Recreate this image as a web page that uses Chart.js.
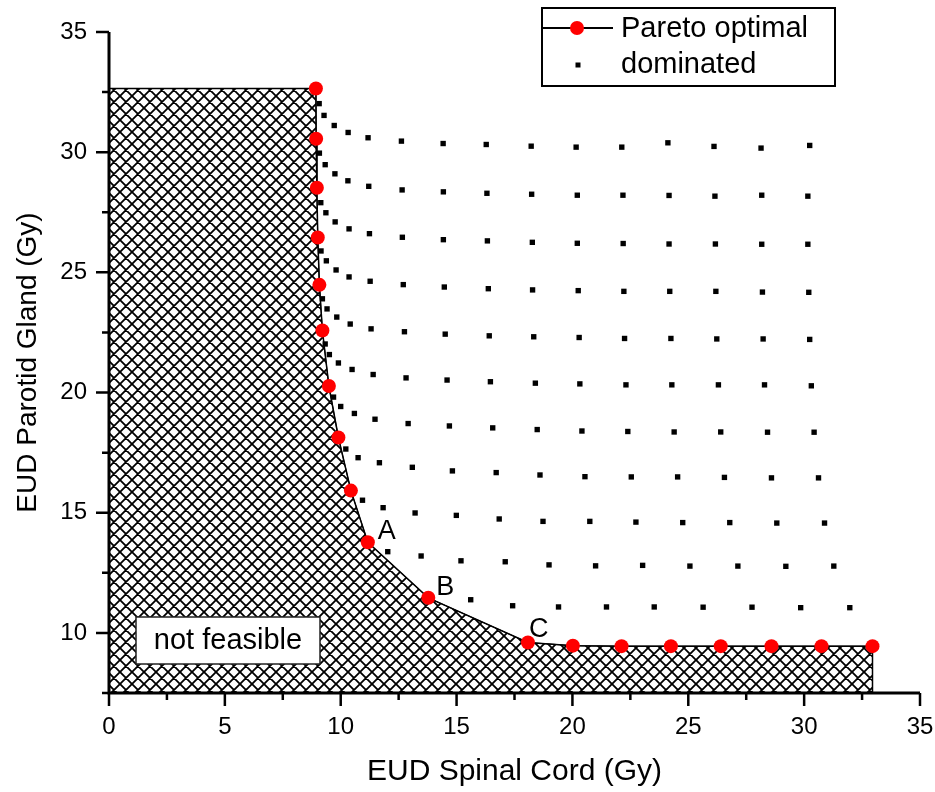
<!DOCTYPE html>
<html lang="en">
<head>
    <meta charset="UTF-8">
    <title>Pareto front</title>
    <script src="https://cdn.jsdelivr.net/npm/chart.js"></script>
    <style>
        body {
            margin: 0;
            padding: 0;
            background-color: #fff;
        }
        canvas {
            display: block;
        }
    </style>
</head>
<body>
    <canvas id="chart" width="935" height="792"></canvas>

    <script>
        // axis ranges / ticks
        const xMin = 0, xMax = 35;
        const yMin = 7.5, yMax = 35;
        const tickStep = 2.5;
        const labelStep = 5;

        // Pareto optimal points (EUD spinal cord, EUD parotid gland)
        const paretoX = [8.93, 8.94, 8.97, 9.01, 9.08, 9.21, 9.49, 9.90, 10.44, 11.17, 13.78, 18.08, 20.02, 22.12, 24.25, 26.40, 28.59, 30.75, 32.95];
        const paretoY = [32.65, 30.56, 28.52, 26.45, 24.48, 22.58, 20.27, 18.13, 15.92, 13.77, 11.46, 9.60, 9.47, 9.45, 9.45, 9.45, 9.45, 9.45, 9.45];

        // dominated points, one row per trade-off level
        const dominatedX = [
            [9.07, 9.28, 9.72, 10.32, 11.18, 12.62, 14.42, 16.28, 18.22, 20.16, 22.13, 24.12, 26.11, 28.14, 30.24],
            [9.08, 9.33, 9.75, 10.31, 11.21, 12.65, 14.43, 16.31, 18.24, 20.21, 22.18, 24.17, 26.15, 28.17, 30.16],
            [9.14, 9.36, 9.76, 10.36, 11.24, 12.66, 14.43, 16.33, 18.27, 20.21, 22.19, 24.17, 26.17, 28.17, 30.16],
            [9.15, 9.38, 9.80, 10.36, 11.27, 12.70, 14.47, 16.37, 18.28, 20.25, 22.22, 24.20, 26.19, 28.20, 30.20],
            [9.21, 9.41, 9.83, 10.41, 11.31, 12.75, 14.51, 16.41, 18.33, 20.29, 22.25, 24.25, 26.23, 28.23, 30.24],
            [9.33, 9.51, 9.90, 10.49, 11.40, 12.82, 14.59, 16.46, 18.40, 20.32, 22.31, 24.29, 26.30, 28.29, 30.31],
            [9.69, 10.00, 10.59, 11.48, 12.91, 14.69, 16.56, 18.48, 20.41, 22.39, 24.39, 26.40, 28.42, 30.43],
            [10.22, 10.75, 11.67, 13.09, 14.82, 16.71, 18.60, 20.54, 22.54, 24.54, 26.56, 28.59, 30.62],
            [10.94, 11.83, 13.21, 14.99, 16.84, 18.73, 20.75, 22.74, 24.76, 26.79, 28.82, 30.88],
            [12.03, 13.47, 15.19, 17.10, 18.99, 21.00, 23.03, 25.07, 27.14, 29.21, 31.28],
            [15.61, 17.42, 19.40, 21.47, 23.53, 25.64, 27.75, 29.85, 31.97]
        ];
        const dominatedY = [
            [32.02, 31.53, 31.11, 30.82, 30.60, 30.46, 30.36, 30.32, 30.25, 30.21, 30.21, 30.39, 30.24, 30.17, 30.28],
            [29.96, 29.48, 29.10, 28.81, 28.58, 28.43, 28.35, 28.29, 28.25, 28.21, 28.21, 28.20, 28.17, 28.21, 28.17],
            [27.90, 27.48, 27.10, 26.81, 26.61, 26.46, 26.36, 26.31, 26.25, 26.21, 26.20, 26.18, 26.18, 26.17, 26.17],
            [25.89, 25.48, 25.10, 24.81, 24.63, 24.49, 24.39, 24.32, 24.27, 24.24, 24.21, 24.21, 24.21, 24.18, 24.17],
            [23.90, 23.48, 23.14, 22.85, 22.65, 22.53, 22.43, 22.36, 22.32, 22.29, 22.25, 22.25, 22.23, 22.23, 22.21],
            [22.02, 21.58, 21.23, 20.96, 20.75, 20.61, 20.52, 20.45, 20.39, 20.36, 20.32, 20.32, 20.32, 20.32, 20.28],
            [19.81, 19.42, 19.13, 18.89, 18.71, 18.61, 18.53, 18.46, 18.40, 18.38, 18.36, 18.36, 18.35, 18.35],
            [17.65, 17.29, 17.08, 16.89, 16.74, 16.67, 16.57, 16.50, 16.49, 16.49, 16.47, 16.45, 16.45],
            [15.52, 15.21, 14.99, 14.89, 14.74, 14.64, 14.64, 14.61, 14.59, 14.59, 14.57, 14.57],
            [13.38, 13.20, 13.00, 12.96, 12.83, 12.79, 12.81, 12.78, 12.78, 12.77, 12.78],
            [11.38, 11.13, 11.08, 11.08, 11.08, 11.07, 11.07, 11.05, 11.05]
        ];

        // labelled Pareto points
        const markLabels = ['A', 'B', 'C'];
        const markIndex = [9, 10, 11];

        const legendLabels = ['Pareto optimal', 'dominated'];
        const regionLabel = 'not feasible';
        const xTitle = 'EUD Spinal Cord (Gy)';
        const yTitle = 'EUD Parotid Gland (Gy)';

        const FONT = "'Liberation Sans', Arial, sans-serif";
        const RED = '#ff0000';

        // build point lists
        const paretoPoints = paretoX.map((x, i) => ({ x: x, y: paretoY[i] }));
        const dominatedPoints = [];
        dominatedX.forEach((row, r) => {
            row.forEach((x, i) => dominatedPoints.push({ x: x, y: dominatedY[r][i] }));
        });
        // not-feasible region: flat top from the axis, down the front, then to the bottom
        const regionPoints = [{ x: xMin, y: paretoY[0] }]
            .concat(paretoPoints)
            .concat([{ x: paretoX[paretoX.length - 1], y: yMin }]);

        // cross hatch pattern
        function makeHatch() {
            const s = 12;
            const c = document.createElement('canvas');
            c.width = s;
            c.height = s;
            const g = c.getContext('2d');
            g.strokeStyle = '#000';
            g.lineWidth = 1.8;
            g.beginPath();
            [-s, 0, s].forEach(k => {
                g.moveTo(k, 0); g.lineTo(k + s, s);
                g.moveTo(k, s); g.lineTo(k + s, 0);
            });
            g.stroke();
            return g.createPattern(c, 'repeat');
        }

        // axis lines with major / minor ticks
        const axesPlugin = {
            id: 'axesPlugin',
            afterDatasetsDraw(chart) {
                const { ctx, chartArea: a, scales: { x, y } } = chart;
                ctx.save();
                ctx.strokeStyle = '#000';
                ctx.lineWidth = 2.5;
                ctx.beginPath();
                y.ticks.forEach(t => {
                    const p = y.getPixelForValue(t.value);
                    const len = t.value % labelStep === 0 ? 13 : 7;
                    ctx.moveTo(a.left, p);
                    ctx.lineTo(a.left - len, p);
                });
                x.ticks.forEach(t => {
                    const p = x.getPixelForValue(t.value);
                    const len = t.value % labelStep === 0 ? 13 : 7;
                    ctx.moveTo(p, a.bottom);
                    ctx.lineTo(p, a.bottom + len);
                });
                ctx.stroke();
                ctx.lineWidth = 3;
                ctx.beginPath();
                ctx.moveTo(a.left, y.getPixelForValue(yMax));
                ctx.lineTo(a.left, a.bottom);
                ctx.lineTo(x.getPixelForValue(xMax), a.bottom);
                ctx.stroke();
                ctx.restore();
            }
        };

        // A/B/C marks, "not feasible" box, legend box
        const notesPlugin = {
            id: 'notesPlugin',
            afterDraw(chart) {
                const { ctx, scales: { x, y } } = chart;
                ctx.save();

                ctx.fillStyle = '#000';
                ctx.font = '27px ' + FONT;
                ctx.textBaseline = 'alphabetic';
                ctx.textAlign = 'left';
                const offs = [[10, -3], [8, -3], [1, -6]];
                markLabels.forEach((txt, i) => {
                    const k = markIndex[i];
                    const px = x.getPixelForValue(paretoX[k]);
                    const py = y.getPixelForValue(paretoY[k]);
                    ctx.fillText(txt, px + offs[i][0], py + offs[i][1]);
                });

                // not feasible box
                ctx.fillStyle = '#fff';
                ctx.fillRect(136, 617, 184, 47);
                ctx.strokeStyle = '#222';
                ctx.lineWidth = 1.5;
                ctx.strokeRect(136, 617, 184, 47);
                ctx.fillStyle = '#000';
                ctx.font = '29px ' + FONT;
                ctx.textAlign = 'center';
                ctx.textBaseline = 'middle';
                ctx.fillText(regionLabel, 228, 641);

                // legend
                ctx.fillStyle = '#fff';
                ctx.fillRect(542, 8, 293, 78);
                ctx.strokeStyle = '#000';
                ctx.lineWidth = 2;
                ctx.strokeRect(542, 8, 293, 78);
                ctx.lineWidth = 1.8;
                ctx.beginPath();
                ctx.moveTo(543, 28);
                ctx.lineTo(613, 28);
                ctx.stroke();
                ctx.fillStyle = RED;
                ctx.beginPath();
                ctx.arc(577, 28, 7, 0, Math.PI * 2);
                ctx.fill();
                ctx.fillStyle = '#000';
                ctx.fillRect(575.5, 62.5, 5, 5);
                ctx.textAlign = 'left';
                ctx.font = '29px ' + FONT;
                ctx.fillText(legendLabels[0], 621, 29);
                ctx.fillText(legendLabels[1], 621, 65);

                ctx.restore();
            }
        };

        const tickLabel = v => (v % labelStep === 0 ? v : '');

        new Chart(document.getElementById('chart'), {
            type: 'scatter',
            data: {
                datasets: [
                    {
                        label: legendLabels[0],
                        data: paretoPoints,
                        showLine: true,
                        borderColor: '#000',
                        borderWidth: 1,
                        pointBackgroundColor: RED,
                        pointBorderWidth: 0,
                        pointRadius: 7,
                        order: 0
                    },
                    {
                        label: legendLabels[1],
                        data: dominatedPoints,
                        pointStyle: 'rect',
                        pointBackgroundColor: '#000',
                        pointBorderWidth: 0,
                        pointRadius: 3.8,
                        order: 1
                    },
                    {
                        label: regionLabel,
                        data: regionPoints,
                        showLine: true,
                        borderColor: '#000',
                        borderWidth: 1.5,
                        pointRadius: 0,
                        fill: 'start',
                        backgroundColor: makeHatch(),
                        order: 2
                    }
                ]
            },
            options: {
                responsive: false,
                animation: false,
                devicePixelRatio: 1,
                layout: {
                    padding: { left: 0, right: 15, top: 32, bottom: 0 }
                },
                plugins: {
                    legend: { display: false },
                    tooltip: { enabled: false }
                },
                scales: {
                    x: {
                        type: 'linear',
                        min: xMin,
                        max: xMax,
                        grid: { display: false, drawTicks: true, tickLength: 19 },
                        border: { display: false },
                        ticks: {
                            stepSize: tickStep,
                            autoSkip: false,
                            maxRotation: 0,
                            padding: 1,
                            color: '#000',
                            font: { family: FONT, size: 24 },
                            callback: tickLabel
                        },
                        title: {
                            display: true,
                            text: xTitle,
                            color: '#000',
                            font: { family: FONT, size: 30 },
                            padding: { top: 0, bottom: 2 }
                        },
                        afterFit(scale) { scale.height = 99; }
                    },
                    y: {
                        type: 'linear',
                        min: yMin,
                        max: yMax,
                        grid: { display: false, drawTicks: true, tickLength: 20 },
                        border: { display: false },
                        ticks: {
                            stepSize: tickStep,
                            autoSkip: false,
                            padding: 2,
                            color: '#000',
                            font: { family: FONT, size: 24 },
                            callback: tickLabel
                        },
                        title: {
                            display: true,
                            text: yTitle,
                            color: '#000',
                            font: { family: FONT, size: 28 },
                            padding: { top: 11, bottom: 0 }
                        },
                        afterFit(scale) { scale.width = 109; }
                    }
                }
            },
            plugins: [axesPlugin, notesPlugin]
        });
    </script>
</body>
</html>
